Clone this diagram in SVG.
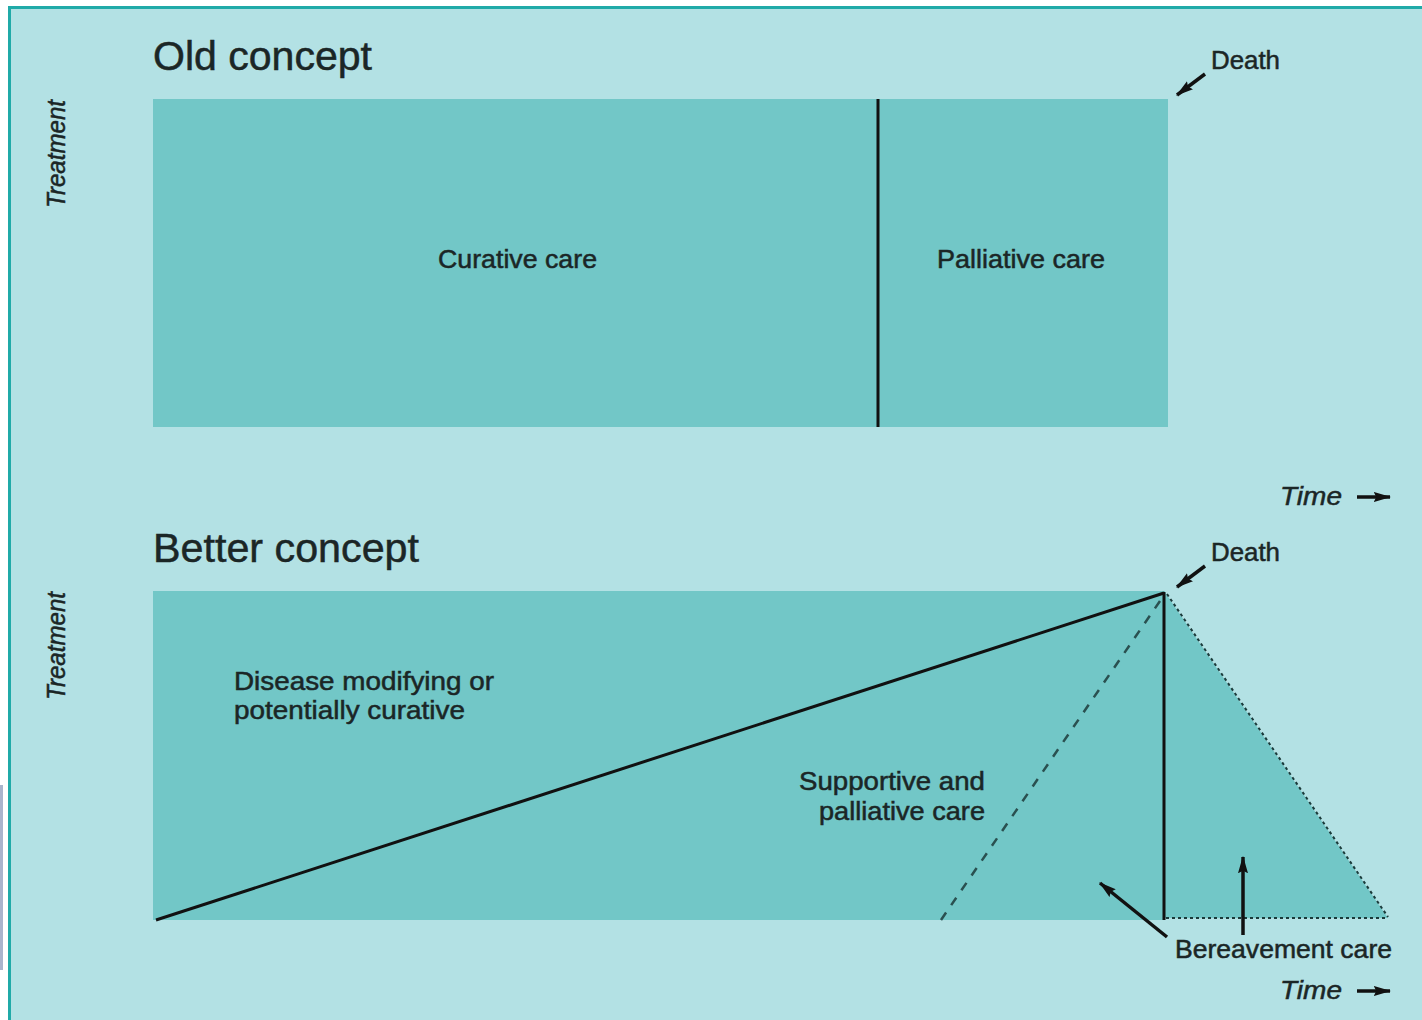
<svg xmlns="http://www.w3.org/2000/svg" width="1422" height="1020" viewBox="0 0 1422 1020">
<defs>
<style>
.t{font-family:"Liberation Sans",Arial,sans-serif;fill:#1b2626;stroke:#1b2626;stroke-width:0.5}
.h{font-size:40px}
.b{font-size:25px}
.i{font-size:26px;font-style:italic}
.box{fill:#72c7c7}
.ln{stroke:#111;stroke-width:3;fill:none}
.dot{stroke:#1a3a3a;stroke-width:2;stroke-dasharray:3 3;fill:none}
.dash{stroke:#2a5050;stroke-width:2.5;stroke-dasharray:9 9;fill:none}
.arr{stroke:#111;stroke-width:3.5;fill:none;marker-end:url(#ah)}
</style>
<marker id="ah" viewBox="0 0 14 8" refX="13" refY="4" markerWidth="5" markerHeight="3" orient="auto" markerUnits="strokeWidth">
<path d="M0,0 L14,4 L0,8 L2,4 Z" fill="#111"/>
</marker>
</defs>
<rect x="0" y="0" width="1422" height="1020" fill="#ffffff"/>
<rect x="0" y="785" width="3" height="185" fill="#a9b4cc"/>
<rect x="8" y="6" width="1414" height="1014" fill="#20aaa8"/>
<rect x="11" y="9" width="1411" height="1011" fill="#b3e1e4"/>

<g id="old-concept">
<text class="t h" x="153" y="70" textLength="219" lengthAdjust="spacingAndGlyphs">Old concept</text>
<text class="t i" transform="translate(65,154) rotate(-90)" text-anchor="middle" textLength="108" lengthAdjust="spacingAndGlyphs">Treatment</text>
</g>
<g id="curative-care">
<rect class="box" x="153" y="99" width="725" height="328"/>
<text class="t b" x="438" y="268" textLength="159" lengthAdjust="spacingAndGlyphs">Curative care</text>
</g>
<g id="palliative-care">
<rect class="box" x="878" y="99" width="290" height="328"/>
<text class="t b" x="937" y="268" textLength="168" lengthAdjust="spacingAndGlyphs">Palliative care</text>
</g>
<g id="death-1">
<text class="t b" x="1211" y="69" textLength="69" lengthAdjust="spacingAndGlyphs">Death</text>
</g>
<g id="time-1">
<text class="t i" x="1280" y="505" textLength="62" lengthAdjust="spacingAndGlyphs">Time</text>
</g>

<g id="better-concept">
<text class="t h" x="153" y="562" textLength="266" lengthAdjust="spacingAndGlyphs">Better concept</text>
<text class="t i" transform="translate(65,646) rotate(-90)" text-anchor="middle" textLength="108" lengthAdjust="spacingAndGlyphs">Treatment</text>
</g>
<g id="care-area">
<rect class="box" x="153" y="591" width="1012" height="329"/>
<polygon class="box" points="1164,591 1388,918 1164,918"/>
</g>
<g id="disease-modifying">
<text class="t b" x="234" y="690" textLength="260" lengthAdjust="spacingAndGlyphs">Disease modifying or</text>
<text class="t b" x="234" y="719" textLength="231" lengthAdjust="spacingAndGlyphs">potentially curative</text>
</g>
<g id="supportive-palliative">
<text class="t b" x="799" y="790" textLength="186" lengthAdjust="spacingAndGlyphs">Supportive and</text>
<text class="t b" x="819" y="820" textLength="166" lengthAdjust="spacingAndGlyphs">palliative care</text>
</g>
<g id="bereavement-care">
<text class="t b" x="1175" y="958" textLength="217" lengthAdjust="spacingAndGlyphs">Bereavement care</text>
</g>
<g id="death-2">
<text class="t b" x="1211" y="561" textLength="69" lengthAdjust="spacingAndGlyphs">Death</text>
</g>
<g id="time-2">
<text class="t i" x="1280" y="999" textLength="62" lengthAdjust="spacingAndGlyphs">Time</text>
</g>

<g id="connectors">
<line class="ln" x1="878" y1="99" x2="878" y2="427"/>
<line class="arr" x1="1205" y1="74" x2="1177" y2="95"/>
<line class="arr" x1="1357" y1="497" x2="1390" y2="497"/>
<line class="ln" x1="156" y1="920" x2="1164" y2="593"/>
<line class="ln" x1="1164" y1="592" x2="1164" y2="920"/>
<line class="dash" x1="941" y1="920" x2="1162" y2="598"/>
<line class="dot" x1="1167" y1="594" x2="1388" y2="917"/>
<line class="dot" x1="1166" y1="918" x2="1388" y2="918"/>
<line class="arr" x1="1205" y1="566" x2="1177" y2="587"/>
<line class="arr" x1="1167" y1="937" x2="1100" y2="883"/>
<line class="arr" x1="1243" y1="935" x2="1243" y2="857"/>
<line class="arr" x1="1357" y1="991" x2="1390" y2="991"/>
</g>
</svg>
